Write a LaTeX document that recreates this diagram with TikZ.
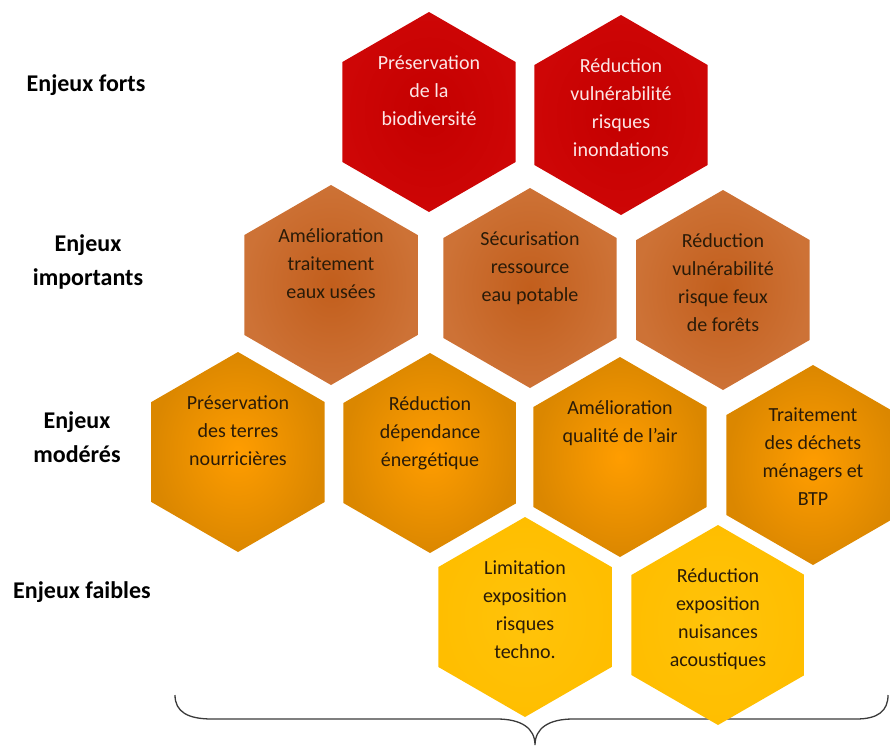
\documentclass[tikz,border=0pt]{standalone}
\usepackage{fontspec}
\setmainfont{Carlito}
\usetikzlibrary{shapes.geometric,positioning}
\definecolor{redIn}{HTML}{C40000}
\definecolor{redOut}{HTML}{CE0606}
\definecolor{rustIn}{HTML}{C25E1C}
\definecolor{rustOut}{HTML}{CD7236}
\definecolor{amberIn}{HTML}{FF9D00}
\definecolor{amberOut}{HTML}{DB8700}
\definecolor{goldIn}{HTML}{FFC30A}
\definecolor{goldOut}{HTML}{FFBE00}
\definecolor{ink}{HTML}{2A1B08}
\definecolor{paleText}{HTML}{FCE6E6}
\definecolor{braceGray}{HTML}{3A3A3A}

\begin{document}
\begin{tikzpicture}[
    x=1pt, y=-1pt,
    hex/.style={regular polygon, regular polygon sides=6, shape border rotate=30, minimum size=200pt, inner sep=0pt, draw=none, shading=radial},
    hexStrong/.style={hex, inner color=redIn, outer color=redOut},
    hexMajor/.style={hex, inner color=rustIn, outer color=rustOut},
    hexModerate/.style={hex, inner color=amberIn, outer color=amberOut},
    hexWeak/.style={hex, inner color=goldIn, outer color=goldOut},
    hexText/.style={anchor=north, inner sep=0pt, yshift=57pt, align=center, font=\fontsize{20}{28}\selectfont\color{ink}},
    level/.style={align=center, inner sep=0pt, font=\fontsize{24}{34}\selectfont\bfseries\color{black}},
    braceLine/.style={draw=braceGray, line width=1.3pt}
  ]
    \useasboundingbox (0,0) rectangle (890,747);

    % Brace
    \draw[braceLine] (175,695) .. controls (175,712) and (188,719) .. (212,719) -- (497,719)
      .. controls (521,719) and (535,728) .. (535,745)
      .. controls (535,728) and (549,719) .. (573,719) -- (856,719)
      .. controls (878,719) and (888,711) .. (888,695);

    % Levels
    \node[level] (forts) at (86,85) {Enjeux forts};
    \node[level] (importants) at (88,262) {Enjeux\\importants};
    \node[level] (moderes) at (77,437) {Enjeux\\modérés};
    \node[level] (faibles) at (82,592) {Enjeux faibles};

    % Hexagons
    \node[hexStrong] (biodiv) at (429,112) {};
    \node[hexStrong] (inond) at (621,115) {};
    \node[hexMajor] (eauxUsees) at (331,285) {};
    \node[hexMajor] (eauPotable) at (530,288) {};
    \node[hexMajor] (feux) at (723,290) {};
    \node[hexModerate] (terres) at (238,452) {};
    \node[hexModerate] (energie) at (430,453) {};
    \node[hexModerate] (air) at (620,457) {};
    \node[hexModerate] (dechets) at (813,465) {};
    \node[hexWeak] (techno) at (525,617) {};
    \node[hexWeak] (bruit) at (718,625) {};

    % Texts
    \node[hexText, text=paleText] (biodivT) at (biodiv.center) {Préservation\\de la\\biodiversité};
    \node[hexText, text=paleText] (inondT) at (inond.center) {Réduction\\vulnérabilité\\risques\\inondations};
    \node[hexText] (eauxUseesT) at (eauxUsees.center) {Amélioration\\traitement\\eaux usées};
    \node[hexText] (eauPotableT) at (eauPotable.center) {Sécurisation\\ressource\\eau potable};
    \node[hexText] (feuxT) at (feux.center) {Réduction\\vulnérabilité\\risque feux\\de forêts};
    \node[hexText] (terresT) at (terres.center) {Préservation\\des terres\\nourricières};
    \node[hexText] (energieT) at (energie.center) {Réduction\\dépendance\\énergétique};
    \node[hexText] (airT) at (air.center) {Amélioration\\qualité de l’air};
    \node[hexText] (dechetsT) at (dechets.center) {Traitement\\des déchets\\ménagers et\\BTP};
    \node[hexText] (technoT) at (techno.center) {Limitation\\exposition\\risques\\techno.};
    \node[hexText] (bruitT) at (bruit.center) {Réduction\\exposition\\nuisances\\acoustiques};
  \end{tikzpicture}
\end{document}
